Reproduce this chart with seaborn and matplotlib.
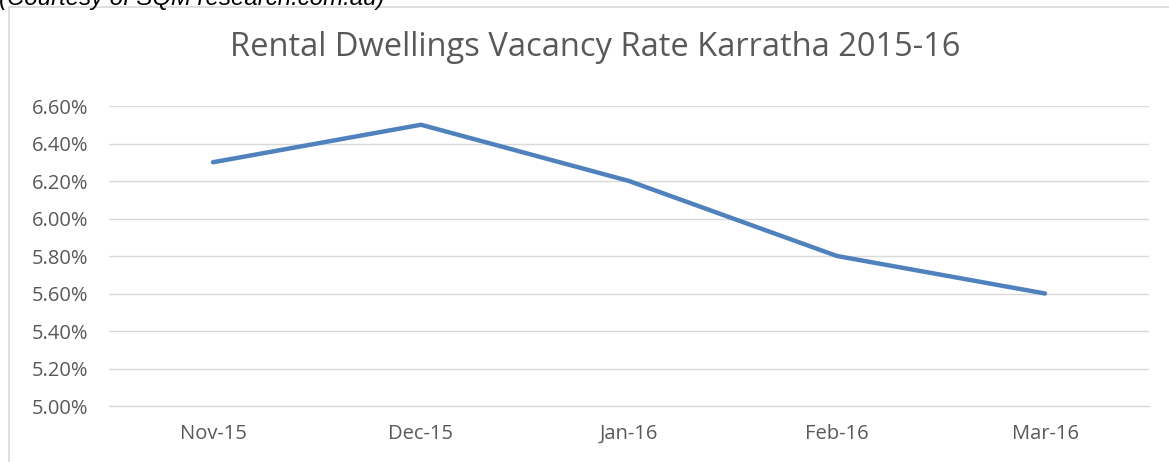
import pandas as pd
import numpy as np
import matplotlib.pyplot as plt
import seaborn as sns
from matplotlib.patches import Rectangle
from matplotlib.ticker import FuncFormatter, FixedLocator

# === Data ===
months = ["Nov-15", "Dec-15", "Jan-16", "Feb-16", "Mar-16"]
vacancy_rate = [6.30, 6.50, 6.20, 5.80, 5.60]  # percent

df = pd.DataFrame({"Month": months, "Vacancy": vacancy_rate})

sns.set_style("white")
plt.rcParams["font.family"] = ["Open Sans", "DejaVu Sans"]

grey_text = "#595959"
line_blue = "#4F81BD"

fig = plt.figure(figsize=(11.69, 4.62), dpi=100)
ax = fig.add_axes([109 / 1169, 1 - 406 / 462, 1040 / 1169, 300 / 462])

sns.lineplot(data=df, x="Month", y="Vacancy", ax=ax, color=line_blue,
             linewidth=3.2, sort=False, solid_capstyle="round")

# === Axes styling ===
ax.set_xlim(-0.5, len(months) - 0.5)
ax.set_ylim(5.0, 6.6)
ax.set_yticks(np.arange(5.0, 6.61, 0.2))
ax.yaxis.set_major_formatter(FuncFormatter(lambda v, p: f"{v:.2f}%"))
ax.grid(axis="y", color="#D9D9D9", linewidth=1)
ax.set_axisbelow(True)

for side in ["top", "right", "left"]:
    ax.spines[side].set_visible(False)
ax.spines["bottom"].set_color("#D9D9D9")
ax.spines["bottom"].set_linewidth(1)

ax.tick_params(axis="y", length=0, pad=15, labelsize=14.5, labelcolor=grey_text)
ax.tick_params(axis="x", which="major", length=0, pad=13, labelsize=14.5, labelcolor=grey_text)
ax.xaxis.set_minor_locator(FixedLocator(np.arange(-0.5, len(months), 1.0)))
ax.tick_params(axis="x", which="minor", length=5, color="#D9D9D9", width=1)
ax.set_xlabel("")
ax.set_ylabel("")

# === Title, caption and chart border ===
fig.text(595 / 1169, 1 - 56 / 462, "Rental Dwellings Vacancy Rate Karratha 2015-16",
         ha="center", va="baseline", fontsize=23.5, color=grey_text)
fig.text(-1 / 1169, 1 - 5 / 462, "(Courtesy of SQM research.com.au)",
         ha="left", va="baseline", fontsize=17.3, style="italic", color="black",
         family=["Liberation Sans", "DejaVu Sans"])
fig.patches.append(Rectangle((9 / 1169, -0.1), 1.2, 1 - 7 / 462 + 0.1,
                             transform=fig.transFigure, fill=True, facecolor="white",
                             edgecolor="#D9D9D9", linewidth=1.2, zorder=-1))

plt.savefig("out.png", dpi=100)
